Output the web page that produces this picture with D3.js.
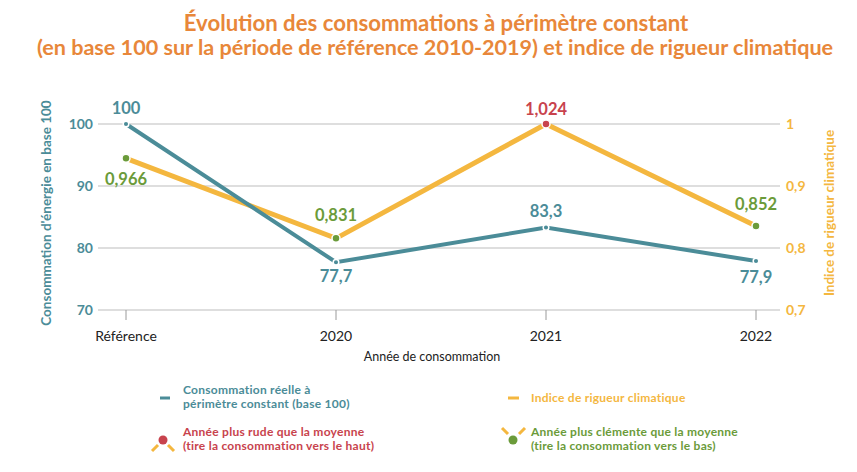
<!DOCTYPE html>
<html><head><meta charset="utf-8">
<script src="https://cdn.jsdelivr.net/npm/d3@7"></script>
<style>body{margin:0;background:#fff}svg{font-family:Lato,"Open Sans",sans-serif}</style>
</head><body><svg id="c" width="857" height="472"></svg>
<script>
const categories = ["Référence","2020","2021","2022"];
const consommation = [100, 77.7, 83.3, 77.9];
const consoLabels = ["100","77,7","83,3","77,9"];
const indice = [0.966, 0.831, 1.024, 0.852];
const indiceLabels = ["0,966","0,831","1,024","0,852"];
const rude = [false, false, true, false];
const leftTicks = [70,80,90,100];
const rightTicks = [0.7,0.8,0.9,1];
const rightTickLabels = ["0,7","0,8","0,9","1"];

const TEAL="#4b8c98", ORANGE="#f4b73f", RED="#c8434d", GREEN="#6b9b3a", TITLE="#e8873a";
const svg = d3.select("#c");
const x = d3.scalePoint().domain(categories).range([126,756]);
const yL = d3.scaleLinear().domain([70,100]).range([310,124]);
const yR = d3.scaleLinear().domain([0.7,1]).range([310,124]);
const yIdx = d3.scaleLinear().domain([0.71,1.024]).range([310,124]);

// title
svg.append("text").attr("x",436).attr("y",31).attr("text-anchor","middle")
  .attr("fill",TITLE).attr("font-size",22.2).attr("font-weight",700)
  .text("Évolution des consommations à périmètre constant");
svg.append("text").attr("x",435).attr("y",55).attr("text-anchor","middle")
  .attr("fill",TITLE).attr("font-size",21.6).attr("font-weight",700)
  .text("(en base 100 sur la période de référence 2010-2019) et indice de rigueur climatique");

// gridlines
svg.append("g").selectAll("line").data(leftTicks).join("line")
  .attr("x1",98).attr("x2",780).attr("y1",d=>yL(d)).attr("y2",d=>yL(d))
  .attr("stroke","#bdbdbd").attr("stroke-width",1);
// left axis labels
svg.append("g").selectAll("text").data(leftTicks).join("text")
  .attr("x",93).attr("y",d=>yL(d)).attr("dy","0.35em").attr("text-anchor","end")
  .attr("fill",TEAL).attr("font-size",14).attr("font-weight",700).text(d=>d);
// right axis labels
svg.append("g").selectAll("text").data(rightTicks).join("text")
  .attr("x",786).attr("y",d=>yR(d)).attr("dy","0.35em").attr("text-anchor","start")
  .attr("fill",ORANGE).attr("font-size",14).attr("font-weight",700).text((d,i)=>rightTickLabels[i]);
// x ticks
svg.append("g").selectAll("line").data(categories).join("line")
  .attr("x1",d=>x(d)).attr("x2",d=>x(d)).attr("y1",310).attr("y2",320)
  .attr("stroke","#9a9a9a");
svg.append("g").selectAll("text").data(categories).join("text")
  .attr("x",d=>x(d)).attr("y",341).attr("text-anchor","middle")
  .attr("fill","#222").attr("font-size",14).text(d=>d);
svg.append("text").attr("x",432).attr("y",361).attr("text-anchor","middle")
  .attr("fill","#222").attr("font-size",12.5).text("Année de consommation");
// axis titles
svg.append("text").attr("transform","translate(51,213) rotate(-90)").attr("text-anchor","middle")
  .attr("fill",TEAL).attr("font-size",13.5).attr("font-weight",700).text("Consommation d'énergie en base 100");
svg.append("text").attr("transform","translate(834,213) rotate(-90)").attr("text-anchor","middle")
  .attr("fill",ORANGE).attr("font-size",13.5).attr("font-weight",700).text("Indice de rigueur climatique");

// lines
svg.append("path").datum(indice.map((v,i)=>[categories[i],v]))
  .attr("fill","none").attr("stroke",ORANGE).attr("stroke-width",5)
  .attr("d",d3.line().x(d=>x(d[0])).y(d=>yIdx(d[1])));
svg.append("path").datum(consommation.map((v,i)=>[categories[i],v]))
  .attr("fill","none").attr("stroke",TEAL).attr("stroke-width",4)
  .attr("d",d3.line().x(d=>x(d[0])).y(d=>yL(d[1])));
// markers
svg.append("g").selectAll("circle").data(indice).join("circle")
  .attr("cx",(d,i)=>x(categories[i])).attr("cy",d=>yIdx(d)).attr("r",4)
  .attr("fill",(d,i)=>rude[i]?RED:GREEN).attr("stroke","#fff").attr("stroke-width",1.5);
svg.append("g").selectAll("circle").data(consommation).join("circle")
  .attr("cx",(d,i)=>x(categories[i])).attr("cy",d=>yL(d)).attr("r",2.8)
  .attr("fill",TEAL).attr("stroke","#fff").attr("stroke-width",1.5);

// data labels
const consoOff = [-16,14,-16,16];
const idxOff = [21,-23,-15,-22];
svg.append("g").selectAll("text").data(consommation).join("text")
  .attr("x",(d,i)=>x(categories[i])).attr("y",(d,i)=>yL(d)+consoOff[i]).attr("dy","0.35em")
  .attr("text-anchor","middle").attr("fill",TEAL).attr("font-size",16.5).attr("font-weight",700)
  .text((d,i)=>consoLabels[i]);
svg.append("g").selectAll("text").data(indice).join("text")
  .attr("x",(d,i)=>x(categories[i])).attr("y",(d,i)=>yIdx(d)+idxOff[i]).attr("dy","0.35em")
  .attr("text-anchor","middle").attr("fill",(d,i)=>rude[i]?RED:GREEN).attr("font-size",16.5).attr("font-weight",700)
  .text((d,i)=>indiceLabels[i]);

// legend
const lg = svg.append("g").attr("font-size",12).attr("font-weight",700).attr("letter-spacing",0.25);
function twoLines(xp, y1, color, l1, l2) {
  lg.append("text").attr("x",xp).attr("y",y1-0.5).attr("fill",color).text(l1);
  lg.append("text").attr("x",xp).attr("y",y1+14).attr("fill",color).text(l2);
}
lg.append("line").attr("x1",160).attr("x2",170).attr("y1",398).attr("y2",398).attr("stroke",TEAL).attr("stroke-width",3);
twoLines(183, 394, TEAL, "Consommation réelle à", "périmètre constant (base 100)");
lg.append("line").attr("x1",508).attr("x2",519).attr("y1",398).attr("y2",398).attr("stroke",ORANGE).attr("stroke-width",3);
lg.append("text").attr("x",531).attr("y",402).attr("fill",ORANGE).text("Indice de rigueur climatique");
// rude marker
lg.append("line").attr("x1",152).attr("y1",451).attr("x2",158).attr("y2",445).attr("stroke",ORANGE).attr("stroke-width",3);
lg.append("line").attr("x1",168).attr("y1",445).attr("x2",174).attr("y2",451).attr("stroke",ORANGE).attr("stroke-width",3);
lg.append("circle").attr("cx",163).attr("cy",440).attr("r",4.5).attr("fill",RED);
twoLines(183, 436, RED, "Année plus rude que la moyenne", "(tire la consommation vers le haut)");
// clement marker
lg.append("line").attr("x1",502).attr("y1",428).attr("x2",508).attr("y2",434).attr("stroke",ORANGE).attr("stroke-width",3);
lg.append("line").attr("x1",519).attr("y1",434).attr("x2",525).attr("y2",428).attr("stroke",ORANGE).attr("stroke-width",3);
lg.append("circle").attr("cx",513).attr("cy",440).attr("r",4.5).attr("fill",GREEN);
twoLines(531, 436, GREEN, "Année plus clémente que la moyenne", "(tire la consommation vers le bas)");
</script></body></html>
